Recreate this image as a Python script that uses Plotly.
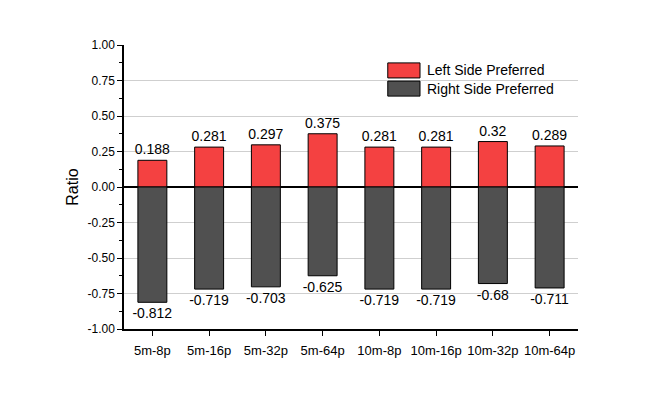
import plotly.graph_objects as go

categories = ['5m-8p', '5m-16p', '5m-32p', '5m-64p',
              '10m-8p', '10m-16p', '10m-32p', '10m-64p']
left_pref = [0.188, 0.281, 0.297, 0.375, 0.281, 0.281, 0.32, 0.289]
right_pref = [-0.812, -0.719, -0.703, -0.625, -0.719, -0.719, -0.68, -0.711]
y_ticks = [-1.0, -0.75, -0.5, -0.25, 0.0, 0.25, 0.5, 0.75, 1.0]
y_ticktext = ['-1.00', '-0.75', '-0.50', '-0.25', '0.00',
              '0.25', '0.50', '0.75', '1.00']

RED = '#F44141'
GREY = '#505050'
FONT = 'Liberation Sans, Arial, sans-serif'

fig = go.Figure()

fig.add_trace(go.Bar(
    x=categories, y=left_pref, name='Left Side Preferred',
    marker=dict(color=RED, line=dict(color='black', width=1)),
    text=[str(v) for v in left_pref], textposition='outside',
    constraintext='none',
    textfont=dict(size=14, color='black'), cliponaxis=False,
))
fig.add_trace(go.Bar(
    x=categories, y=right_pref, name='Right Side Preferred',
    marker=dict(color=GREY, line=dict(color='black', width=1)),
    text=[str(v) for v in right_pref], textposition='outside',
    constraintext='none',
    textfont=dict(size=14, color='black'), cliponaxis=False,
))

# legend drawn by hand so the swatches are wide boxes
legend_items = [('Left Side Preferred', RED), ('Right Side Preferred', GREY)]
for i, (label, col) in enumerate(legend_items):
    y1 = 0.937 - i * 0.064
    fig.add_shape(type='rect', xref='paper', yref='paper',
                  x0=0.581, x1=0.652, y0=y1 - 0.053, y1=y1,
                  fillcolor=col, line=dict(color='black', width=1))
    fig.add_annotation(xref='paper', yref='paper', x=0.663, y=y1 - 0.0265,
                       text=label, showarrow=False, xanchor='left',
                       yanchor='middle',
                       font=dict(size=14, color='black', family=FONT))

axis_common = dict(showline=True, linecolor='black', linewidth=1.5,
                   tickcolor='black', ticklen=5, tickwidth=1, automargin=False)

fig.update_layout(
    width=664, height=396,
    margin=dict(l=116, r=94, t=37, b=75),
    paper_bgcolor='white', plot_bgcolor='white',
    barmode='relative', bargap=0.49,
    showlegend=False,
    font=dict(family=FONT, color='black'),
    xaxis=dict(**axis_common, ticks='outside', tickfont=dict(size=13),
               ticklabelstandoff=4, showgrid=False, zeroline=False),
    yaxis=dict(**axis_common, ticks='outside', range=[-1, 1],
               tickvals=y_ticks, ticktext=y_ticktext, tickfont=dict(size=12),
               title=dict(text='Ratio', font=dict(size=16), standoff=5),
               showgrid=True, gridcolor='#CFCFCF', gridwidth=1,
               zeroline=True, zerolinecolor='black', zerolinewidth=1.5,
               minor=dict(ticks='outside', ticklen=3, dtick=0.125,
                          tickcolor='black', showgrid=False)),
    xaxis2=dict(**axis_common, overlaying='x', side='top', ticks='inside',
                range=[-0.5, 7.5], tickvals=list(range(len(categories))),
                showticklabels=False, showgrid=False, zeroline=False),
    yaxis2=dict(**axis_common, overlaying='y', side='right', ticks='inside',
                range=[-1, 1], dtick=0.25, showticklabels=False,
                showgrid=False, zeroline=False,
                minor=dict(ticks='inside', ticklen=3, dtick=0.125,
                           tickcolor='black')),
)

fig.write_html('out.html')
